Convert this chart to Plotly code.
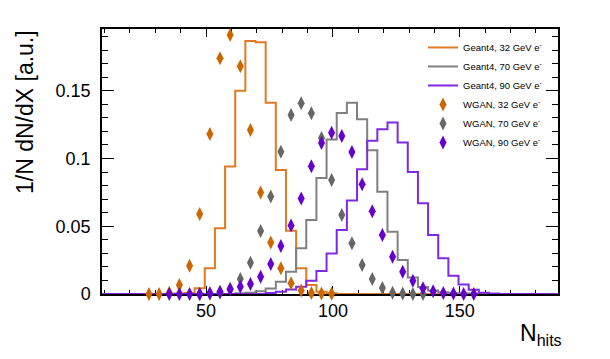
import plotly.graph_objects as go

# bin width of the N_hits histograms
bin_w = 4.0
x_lo, x_hi = 9.0, 188.7

# Geant4 histograms: centre of first bin + normalised bin contents
g4_32_start = 39.5
g4_32 = [0.0003, 0.0008, 0.0042, 0.019, 0.0485, 0.094, 0.150, 0.1867, 0.1857,
         0.141, 0.0915, 0.0467, 0.019, 0.0066, 0.0017, 0.0005]

g4_70_start = 63.5
g4_70 = [0.0005, 0.001, 0.002, 0.004, 0.009, 0.0165, 0.0337, 0.0546, 0.0856,
         0.114, 0.1335, 0.141, 0.129, 0.106, 0.0755, 0.046, 0.025, 0.0122,
         0.0051, 0.0025, 0.0012, 0.0008, 0.0006, 0.0004, 0.0002]

g4_90_start = 75.5
g4_90 = [0.0008, 0.0017, 0.0034, 0.0054, 0.0098, 0.017, 0.0298, 0.0472, 0.069,
         0.092, 0.113, 0.1215, 0.1265, 0.1117, 0.090, 0.0669, 0.0435, 0.0263,
         0.0135, 0.007, 0.0032, 0.001, 0.0003]

# WGAN points: centre of first bin + values
wg_32_start = 27.5
wg_32 = [0.0, 0.0, 0.001, 0.0066, 0.0209, 0.059, 0.118, 0.174, 0.191, 0.168,
         0.121, 0.0748, 0.038, 0.019, 0.0079, 0.0025, 0.0007, 0.0003, 0.0002]

wg_70_start = 47.5
wg_70 = [0.0, 0.0003, 0.001, 0.004, 0.011, 0.0231, 0.0465, 0.072, 0.105, 0.132,
         0.1407, 0.1334, 0.115, 0.0841, 0.0583, 0.0374, 0.0214, 0.0111, 0.0044,
         0.001, 0.0004, 0.0, 0.0]

wg_90_start = 35.5
wg_90 = [0.0, 0.0, 0.0, 0.0, 0.0005, 0.0017, 0.0034, 0.0054, 0.0074, 0.0128,
         0.0222, 0.0354, 0.0505, 0.0705, 0.0942, 0.1114, 0.119, 0.1166, 0.1048,
         0.081, 0.061, 0.0435, 0.0275, 0.0165, 0.0097, 0.0042, 0.0021, 0.0008,
         0.0003, 0.0, 0.0]

names_g4 = ["Geant4, 32 GeV e<sup>-</sup>", "Geant4, 70 GeV e<sup>-</sup>", "Geant4, 90 GeV e<sup>-</sup>"]
names_wg = ["WGAN, 32 GeV e<sup>-</sup>", "WGAN, 70 GeV e<sup>-</sup>", "WGAN, 90 GeV e<sup>-</sup>"]
line_cols = ["#e07a22", "#808080", "#7d2ae0"]
mark_cols = ["#cc6600", "#666666", "#6600cc"]


def steps(start, vals):
    edges = [start - bin_w / 2 + bin_w * i for i in range(len(vals) + 1)]
    xs = [x_lo] + edges + [x_hi]
    ys = [0.0] + list(vals) + [0.0, 0.0]
    return xs, ys


def centres(start, vals):
    return [start + bin_w * i for i in range(len(vals))]


fig = go.Figure()

for (st, v), nm, c in zip([(g4_32_start, g4_32), (g4_70_start, g4_70), (g4_90_start, g4_90)],
                          names_g4, line_cols):
    xs, ys = steps(st, v)
    fig.add_trace(go.Scatter(x=xs, y=ys, mode="lines", name=nm, line_shape="hv",
                             line=dict(color=c, width=2), cliponaxis=False))

for (st, v), nm, c in zip([(wg_32_start, wg_32), (wg_70_start, wg_70), (wg_90_start, wg_90)],
                          names_wg, mark_cols):
    fig.add_trace(go.Scatter(x=centres(st, v), y=v, mode="markers", name=nm,
                             marker=dict(symbol="diamond-tall", size=10, color=c, line_width=0),
                             cliponaxis=False))

axis_font = dict(family="Liberation Sans, Arial", size=18, color="black")

fig.update_xaxes(range=[x_lo, x_hi], tick0=0, dtick=50, ticks="inside", ticklen=8,
                 tickcolor="black", showline=True, linecolor="black", linewidth=1.5,
                 mirror="ticks", showgrid=False, zeroline=False, tickfont=axis_font,
                 layer="below traces",
                 minor=dict(dtick=10, ticks="inside", ticklen=4, tickcolor="black", showgrid=False))
fig.update_yaxes(range=[0, 0.1955], tick0=0, dtick=0.05, ticks="inside", ticklen=12,
                 tickcolor="black", showline=True, linecolor="black", linewidth=1.5,
                 mirror="ticks", showgrid=False, zeroline=False, tickfont=axis_font,
                 layer="below traces", ticklabelstandoff=6,
                 minor=dict(dtick=0.01, ticks="inside", ticklen=6, tickcolor="black", showgrid=False))

title_font = dict(family="Liberation Sans, Arial", size=23, color="black")
fig.add_annotation(text="1/N dN/dX [a.u.]", textangle=-90, xref="paper", yref="paper",
                   x=0, y=1, xanchor="center", yanchor="top", xshift=-77, yshift=1,
                   showarrow=False, font=title_font)
fig.add_annotation(text="N<sub>hits</sub>", xref="paper", yref="paper", x=1, y=0,
                   xanchor="right", yanchor="top", xshift=6, yshift=-24,
                   showarrow=False, font=title_font)

fig.update_layout(
    width=610, height=359,
    margin=dict(l=102, r=52, t=29, b=65),
    plot_bgcolor="white", paper_bgcolor="white",
    font=dict(family="Liberation Sans, Arial", color="black"),
    showlegend=True,
    legend=dict(x=0.704, y=0.985, xanchor="left", yanchor="top",
                bgcolor="rgba(0,0,0,0)", font=dict(size=9.5, color="black")),
)

# page body has a default 8px margin; drop it so the figure sits at the window origin
fig.write_html("out.html", config={"displayModeBar": False},
               post_script="document.body.style.margin='0';")
